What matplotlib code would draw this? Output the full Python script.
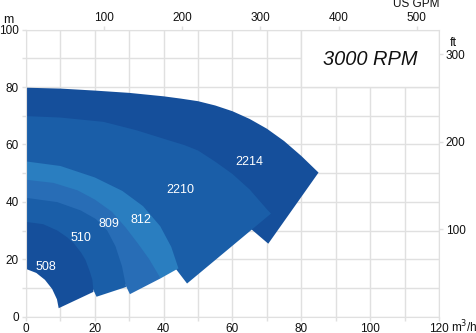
import matplotlib

matplotlib.use("Agg")
import matplotlib.pyplot as plt
from matplotlib.patches import Polygon, Rectangle
from matplotlib.ticker import MultipleLocator, FixedLocator

plt.rcParams["font.family"] = ["Liberation Sans", "DejaVu Sans"]

# pump models, drawn largest first so the smaller fields sit on top
MODELS = ["2214", "2210", "812", "809", "510", "508"]

# max impeller curves: flow Q [m3/h], head H [m]
Q_OUT = {
    "2214": [0, 10, 20, 30, 40, 45, 50, 55, 60, 65, 70, 75, 80, 85.0],
    "2210": [0, 10, 22.5, 32, 41.9, 46, 50, 55, 60, 65, 70, 71.2],
    "812": [0, 10, 20, 28, 34, 39, 42.2, 44.3],
    "809": [0, 8, 15, 20, 25, 29, 32.5, 35.8, 39.1],
    "510": [0, 9.1, 15.9, 20.3, 23.6, 26.0, 27.9, 29.1],
    "508": [0, 5, 9.1, 12, 14.0, 16, 17.3, 18.6, 19.3, 19.6],
}
H_OUT = {
    "2214": [79.8, 79.5, 78.8, 78.0, 76.8, 76.0, 75.1, 73.6, 71.6, 68.9,
             65.5, 61.2, 56.0, 50.2],
    "2210": [69.9, 69.4, 67.9, 65.0, 61.3, 59.8, 57.9, 54.0, 49.7, 44.3,
             37.4, 35.9],
    "812": [54.1, 52.5, 48.5, 43.8, 38.5, 31.5, 24.3, 16.8],
    "809": [47.7, 46.6, 44.0, 40.8, 36.5, 31.0, 25.5, 20.0, 13.3],
    "510": [41.4, 39.9, 37.0, 34.0, 30.0, 24.5, 17.5, 10.3],
    "508": [33.0, 32.2, 30.0, 27.6, 25.4, 22.3, 19.7, 15.5, 12.7, 8.6],
}

# min impeller curves, running from the end of the field back to Q = 0
Q_IN = {
    "2214": [70.4, 62, 50, 35, 18, 0],
    "2210": [46.8, 43.8, 40, 34, 25, 12, 0],
    "812": [39.1, 35, 30, 22, 10, 0],
    "809": [30.2, 28.5, 26, 22, 15, 0],
    "510": [20.5, 18.5, 16, 12, 6, 0],
    "508": [9.5, 9.0, 7.6, 5.5, 3, 0],
}
H_IN = {
    "2214": [25.4, 34.0, 43, 50, 54, 55],
    "2210": [11.5, 16.2, 22, 29, 36, 41, 43],
    "812": [13.3, 18, 26, 33, 38, 39],
    "809": [7.8, 12, 18, 26, 32, 36],
    "510": [6.9, 12, 18, 24, 28, 29],
    "508": [2.9, 6.0, 9.6, 12.8, 15.2, 16.6],
}

LABEL_Q = [64.9, 44.8, 33.3, 24.2, 16.1, 5.7]
LABEL_H = [53.8, 44.2, 33.7, 32.3, 27.4, 17.2]

COLORS = {"2214": "#154f9b", "2210": "#1a5ea8", "812": "#2a7ec0",
          "809": "#286db6", "510": "#1a5ea8", "508": "#154f9b"}

GRID = "#e0e0e0"
INK = "#111111"
M3H_TO_GPM = 4.403
M_TO_FT = 3.2808

fig = plt.figure(figsize=(4.76, 3.33), dpi=100)
ax = fig.add_axes([0.0546, 0.0495, 0.8676, 0.861])
ax.set_xlim(0, 120)
ax.set_ylim(0, 100)
ax.set_axisbelow(True)

ax.xaxis.set_major_locator(MultipleLocator(20))
ax.xaxis.set_minor_locator(MultipleLocator(10))
ax.yaxis.set_major_locator(MultipleLocator(20))
ax.yaxis.set_minor_locator(MultipleLocator(10))
ax.grid(which="both", color=GRID, linewidth=1.0)
ax.tick_params(which="both", length=3, width=1, color=GRID, labelsize=8.5,
               pad=2, labelcolor=INK)
ax.tick_params(axis="x", which="both", pad=1.5)
for sp in ax.spines.values():
    sp.set_color(GRID)

ax.add_patch(Rectangle((80, 80), 40, 20, facecolor="white", edgecolor=GRID,
                       linewidth=1.0, zorder=1))
ax.text(100, 89.8, "3000 RPM", style="italic", fontsize=14.4, ha="center",
        va="center", color=INK, zorder=2)

for name, lq, lh in zip(MODELS, LABEL_Q, LABEL_H):
    pts = list(zip(Q_OUT[name], H_OUT[name])) + list(zip(Q_IN[name], H_IN[name]))
    ax.add_patch(Polygon(pts, closed=True, facecolor=COLORS[name],
                         edgecolor="none", zorder=2))
    ax.text(lq, lh, name, color="white", fontsize=9, ha="center", va="center",
            zorder=3)

# US GPM along the top
top = ax.secondary_xaxis("top", functions=(lambda q: q * M3H_TO_GPM,
                                           lambda g: g / M3H_TO_GPM))
top.xaxis.set_major_locator(FixedLocator([100, 200, 300, 400, 500]))
top.tick_params(length=3, width=1, color=GRID, labelsize=8.5, pad=1.5,
                labelcolor=INK)
for sp in top.spines.values():
    sp.set_visible(False)

# feet on the right
right = ax.secondary_yaxis("right", functions=(lambda h: h * M_TO_FT,
                                               lambda f: f / M_TO_FT))
right.yaxis.set_major_locator(FixedLocator([100, 200, 300]))
right.tick_params(length=3, width=1, color=GRID, labelsize=8.5, pad=2,
                  labelcolor=INK)
for sp in right.spines.values():
    sp.set_visible(False)

fig.text(8.5 / 476, 1 - 20 / 333, "m", fontsize=9, ha="center", va="center",
         color=INK)
fig.text(453 / 476, 1 - 43 / 333, "ft", fontsize=9, ha="center", va="center",
         color=INK)
fig.text(416 / 476, 1 - 4 / 333, "US GPM", fontsize=8.5, ha="center",
         va="center", color=INK)
fig.text(464 / 476, 1 - 327 / 333, "m$^3$/h", fontsize=8.5, ha="center",
         va="center", color=INK)

fig.savefig("out.png", dpi=100)
